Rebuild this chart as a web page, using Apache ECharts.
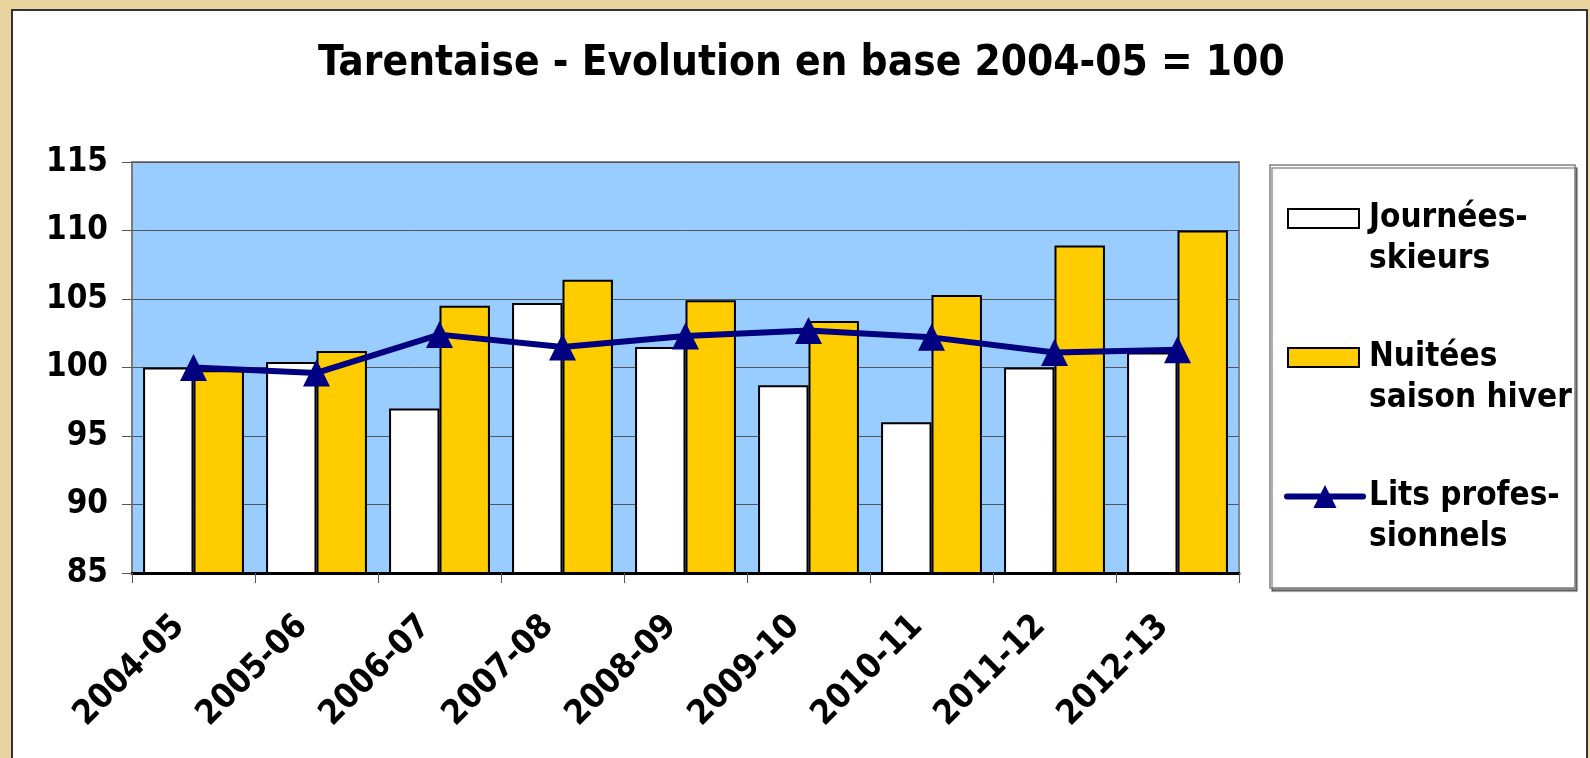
<!DOCTYPE html>
<html>
<head>
<meta charset="utf-8">
<script src="https://cdn.jsdelivr.net/npm/echarts@6/dist/echarts.min.js"></script>
<style>
html,body{margin:0;padding:0;background:#E8D49C;overflow:hidden;}
#frame{position:absolute;left:11px;top:9px;width:1573px;height:760px;background:#fff;border:2px solid #333;}
#chart{position:absolute;left:0;top:0;width:1590px;height:758px;}
</style>
</head>
<body>
<div id="frame"></div>
<div id="chart"></div>
<script>
const categories = ['2004-05','2005-06','2006-07','2007-08','2008-09','2009-10','2010-11','2011-12','2012-13'];
const journeesSkieurs = [100, 100.4, 97.0, 104.7, 101.5, 98.7, 96.0, 100.0, 101.1];
const nuiteesHiver = [99.8, 101.2, 104.5, 106.4, 104.9, 103.4, 105.3, 108.9, 110.0];
const litsPro = [100, 99.6, 102.4, 101.5, 102.3, 102.7, 102.2, 101.1, 101.3];
const yTicks = {min: 85, max: 115, interval: 5};
const seriesNames = ['Journées-skieurs', 'Nuitées saison hiver', 'Lits professionnels'];
const legendLabels = {
  'Journées-skieurs': '\nJournées-\nskieurs',
  'Nuitées saison hiver': '\nNuitées\nsaison hiver',
  'Lits professionnels': '\nLits profes-\nsionnels'
};

const FONT = "'DejaVu Sans Condensed', 'DejaVu Sans', sans-serif";
const legendText = {fontFamily: FONT, fontWeight: 'bold', fontSize: 33, lineHeight: 41, color: '#000', padding: [0, 0, 0, 5]};
const chart = echarts.init(document.getElementById('chart'));
chart.setOption({
  backgroundColor: 'transparent',
  animation: false,
  title: {
    text: 'Tarentaise - Evolution en base 2004-05 = 100',
    left: 318,
    top: 38,
    padding: [5, 0, 5, 0],
    textStyle: {fontFamily: FONT, fontWeight: 'bold', fontSize: 42, color: '#000'}
  },
  graphic: [{
    type: 'rect',
    z: 0,
    shape: {x: 1270, y: 165, width: 305, height: 423},
    style: {fill: '#fff', stroke: '#808080', lineWidth: 1.5, shadowColor: 'rgba(0,0,0,0.45)', shadowOffsetX: 2, shadowOffsetY: 3, shadowBlur: 1}
  }],
  legend: [{
    orient: 'vertical',
    left: 1287,
    top: 157,
    itemWidth: 71,
    itemHeight: 19,
    itemGap: 16,
    padding: 0,
    icon: 'rect',
    data: [seriesNames[0], seriesNames[1]],
    formatter: n => legendLabels[n],
    textStyle: legendText,
    selectedMode: false
  }, {
    orient: 'vertical',
    left: 1284,
    top: 435,
    itemWidth: 76,
    itemHeight: 29,
    padding: 0,
    data: [seriesNames[2]],
    formatter: n => legendLabels[n],
    lineStyle: {width: 6, cap: 'round'},
    textStyle: {fontFamily: FONT, fontWeight: 'bold', fontSize: 33, lineHeight: 41, color: '#000', padding: [0, 0, 0, 1]},
    selectedMode: false
  }],
  grid: {
    left: 132, right: 351, top: 162, bottom: 185,
    show: true, backgroundColor: '#99CCFF', borderColor: '#888', borderWidth: 2,
    containLabel: false
  },
  xAxis: {
    type: 'category',
    data: categories,
    axisLine: {lineStyle: {color: '#000', width: 3}},
    axisTick: {show: true, alignWithLabel: false, length: 10, lineStyle: {color: '#555', width: 1}},
    axisLabel: {rotate: 45, margin: 34, padding: [0, 20, 0, 0], fontFamily: FONT, fontWeight: 'bold', fontSize: 34, color: '#000', interval: 0}
  },
  yAxis: {
    type: 'value',
    min: yTicks.min, max: yTicks.max, interval: yTicks.interval,
    axisLine: {show: true, lineStyle: {color: '#777', width: 1.5}},
    axisTick: {show: true, length: 10, lineStyle: {color: '#555', width: 1}},
    axisLabel: {margin: 24, fontFamily: FONT, fontWeight: 'bold', fontSize: 33, color: '#000'},
    splitLine: {show: true, lineStyle: {color: '#555', width: 1}}
  },
  series: [
    {
      name: seriesNames[0], type: 'bar', data: journeesSkieurs,
      barGap: '0%', barCategoryGap: '18%',
      itemStyle: {color: '#FFFFFF', borderColor: '#000', borderWidth: 2}
    },
    {
      name: seriesNames[1], type: 'bar', data: nuiteesHiver,
      barGap: '0%', barCategoryGap: '18%',
      itemStyle: {color: '#FFCC00', borderColor: '#000', borderWidth: 2}
    },
    {
      name: seriesNames[2], type: 'line', data: litsPro, z: 5,
      symbol: 'triangle', symbolSize: [27, 27],
      lineStyle: {color: '#000080', width: 6},
      itemStyle: {color: '#000080'}
    }
  ]
});
</script>
</body>
</html>
